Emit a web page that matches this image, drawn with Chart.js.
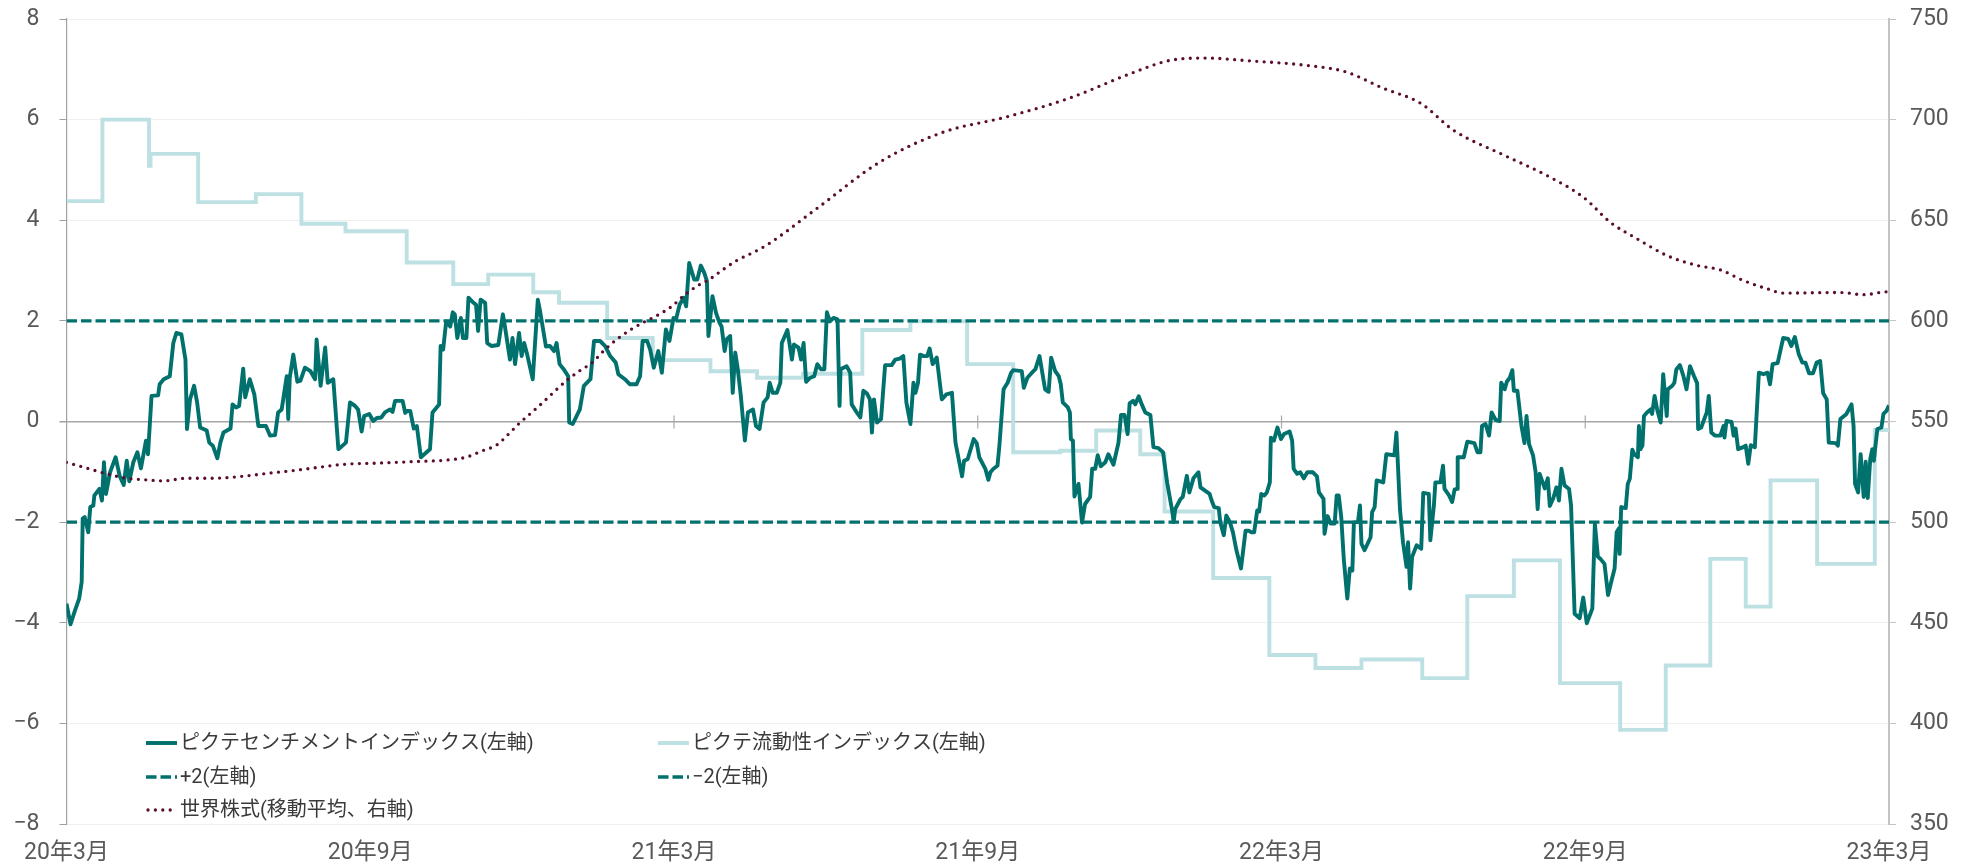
<!DOCTYPE html>
<html><head><meta charset="utf-8">
<script src="https://cdn.jsdelivr.net/npm/chart.js@4.4.1/dist/chart.umd.min.js"></script>
<style>html,body{margin:0;padding:0;background:#fff;}#wrap{width:1973px;height:868px;}</style>
</head><body><div id="wrap"><canvas id="c" width="1973" height="868"></canvas></div>
<script>
// x values: months elapsed since March 2020
const xTickLabels = ['20年3月','20年9月','21年3月','21年9月','22年3月','22年9月','23年3月'];
const leftTicks = {min: -8, max: 8, step: 2};
const rightTicks = {min: 350, max: 750, step: 50};

const seriesNames = ['ピクテセンチメントインデックス(左軸)','ピクテ流動性インデックス(左軸)','+2(左軸)','−2(左軸)','世界株式(移動平均、右軸)'];

const sentMonths = [
0,0.08,0.16,0.25,0.30,0.32,0.36,0.43,0.47,0.53,
0.55,0.65,0.70,0.74,0.78,0.86,0.97,1.05,1.13,1.19,
1.24,1.32,1.40,1.47,1.57,1.61,1.68,1.81,1.84,1.92,
2.04,2.11,2.17,2.27,2.35,2.38,2.44,2.52,2.58,2.64,
2.77,2.82,2.89,2.98,3.04,3.10,3.24,3.28,3.35,3.41,
3.49,3.53,3.62,3.71,3.79,3.94,4.02,4.12,4.18,4.25,
4.35,4.38,4.41,4.48,4.56,4.62,4.71,4.82,4.91,4.94,
5.02,5.11,5.16,5.27,5.37,5.52,5.60,5.70,5.76,5.83,
5.88,5.98,6.06,
6.13,6.22,6.29,6.39,6.44,6.49,6.64,6.69,6.73,6.79,
6.86,6.92,7.00,7.18,7.23,7.36,7.39,7.44,7.50,7.58,
7.63,7.67,7.72,7.79,7.83,7.90,7.94,8.04,8.09,8.13,
8.18,8.27,8.31,8.40,8.53,8.62,8.66,8.76,8.81,8.86,
8.94,8.99,9.04,9.10,9.21,9.31,9.35,9.47,9.55,9.63,
9.68,9.74,9.82,9.91,9.93,10.00,10.14,10.22,10.35,10.42,
10.54,10.64,10.74,10.85,10.90,11.03,11.13,11.26,11.33,11.38,
11.47,11.53,11.60,11.69,11.76,11.84,11.91,11.99,12.04,12.11,
12.19,12.24,12.30,12.40,12.46,12.53,12.60,12.65,12.68,12.76,
12.83,12.90,12.94,13.00,13.04,13.11,13.16,13.21,13.26,13.32,
13.40,13.46,13.56,13.62,13.69,13.77,13.85,13.89,13.95,14.03,
14.10,14.13,14.24,14.33,14.37,14.46,14.51,14.56,14.61,14.69,
14.77,14.83,14.90,14.97,15.02,15.08,15.15,15.23,15.27,15.29,
15.41,15.48,15.51,15.61,15.68,15.74,15.81,15.87,15.91,15.95,
16.01,16.09,16.17,16.30,16.37,16.46,16.53,16.59,16.67,16.73,
16.77,16.82,16.86,16.93,17.00,17.05,17.11,17.19,17.29,17.38,
17.49,17.56,17.69,17.73,17.80,17.92,17.98,18.03,18.15,18.21,
18.25,18.31,18.39,18.43,18.51,18.59,18.66,18.70,18.87,18.91,
18.98,19.07,19.14,19.22,19.33,19.40,19.45,19.53,19.60,19.64,
19.68,19.78,19.82,19.84,19.88,19.91,19.99,20.06,20.12,20.22,
20.26,20.32,20.37,20.43,20.52,20.58,20.68,20.78,20.83,20.90,
20.96,21.00,21.07,21.11,21.18,21.24,21.31,21.41,21.47,21.57,
21.66,21.74,21.84,21.87,21.90,22.00,22.05,22.13,22.18,22.26,
22.36,22.40,22.51,22.58,22.62,22.67,22.76,22.79,22.86,22.91,
22.98,23.04,23.11,23.20,23.29,23.35,23.40,23.46,23.52,23.56,
23.60,23.66,23.71,23.77,23.79,23.85,23.92,23.99,24.05,24.16,
24.21,24.24,24.31,
24.37,24.44,24.51,24.62,24.70,24.74,24.83,24.85,24.91,24.97,
25.05,25.09,25.13,25.18,25.23,25.30,25.35,25.40,25.43,25.51,
25.55,25.58,25.64,25.76,25.79,25.84,25.88,26.01,26.07,26.23,
26.27,26.34,26.40,26.47,26.50,26.54,26.58,26.67,26.76,26.80,
26.91,26.94,27.01,27.04,27.14,27.19,27.22,27.31,27.37,27.42,
27.47,27.48,27.60,27.67,27.81,27.87,27.93,27.96,28.03,28.10,
28.15,28.23,28.31,28.34,28.41,28.45,28.51,28.56,28.59,28.66,
28.74,28.80,28.84,28.89,28.97,29.02,29.06,29.10,29.20,29.26,
29.30,29.37,29.43,29.48,29.53,29.59,29.68,29.72,29.79,29.89,
29.96,30.03,30.14,30.19,30.25,
30.30,30.38,30.45,30.53,30.58,30.62,30.66,30.68,30.71,30.80,
30.84,30.88,30.93,30.97,31.04,31.06,31.09,31.13,31.16,31.22,
31.29,31.32,31.37,31.42,31.49,31.54,31.61,31.63,31.72,31.76,
31.80,31.87,31.94,32.00,32.07,32.15,32.21,32.23,32.29,32.40,
32.44,32.49,32.56,32.67,32.73,32.75,32.79,32.89,32.93,32.97,
33.02,33.12,33.17,33.22,33.27,33.35,33.43,33.52,33.60,33.65,
33.70,33.80,33.91,34.01,34.07,34.14,34.22,34.29,34.35,34.42,
34.50,34.57,34.64,34.70,34.77,34.81,34.95,34.99,35.04,35.16,
35.26,35.30,35.33,35.39,35.44,35.50,35.54,35.58,35.63,35.67,
35.70,35.77,35.85,35.89,35.95,36.00
];
const sentValues = [
-3.62,-4.03,-3.78,-3.52,-3.19,-1.93,-1.90,-2.20,-1.70,-1.67,
-1.47,-1.34,-1.57,-0.81,-1.44,-1.01,-0.71,-1.08,-1.26,-0.78,
-1.19,-0.81,-0.61,-0.93,-0.38,-0.65,0.51,0.52,0.74,0.84,
0.90,1.56,1.76,1.73,1.23,-0.15,0.44,0.71,0.38,-0.12,
-0.18,-0.42,-0.48,-0.73,-0.42,-0.22,-0.14,0.34,0.28,0.31,
1.05,0.48,0.84,0.54,-0.09,-0.09,-0.28,-0.27,0.18,0.24,
0.90,0.05,0.87,1.33,0.79,0.81,1.07,1.00,0.84,1.63,
0.71,1.47,0.77,0.84,-0.55,-0.42,0.38,0.31,0.24,-0.20,
0.11,0.15,0.01,
0.07,0.08,0.18,0.24,0.19,0.41,0.41,0.17,0.21,0.21,
-0.14,-0.09,-0.71,-0.55,0.18,0.34,1.50,1.43,1.99,1.89,
2.17,2.13,1.66,2.06,1.66,1.66,2.46,2.36,2.32,1.80,
2.42,2.36,1.56,1.50,1.52,2.13,1.89,1.23,1.66,1.14,
1.76,1.30,1.56,1.33,0.84,2.42,2.22,1.49,1.50,1.40,
1.56,1.14,1.04,0.90,-0.02,-0.05,0.24,0.71,0.84,1.60,
1.60,1.50,1.30,1.17,0.94,0.84,0.74,0.74,0.90,1.60,
1.60,1.43,1.07,1.40,0.97,1.83,1.60,2.06,2.03,2.32,
2.46,2.29,3.15,2.82,2.82,3.10,2.95,2.79,1.70,2.49,
2.16,1.96,1.89,1.40,1.63,1.70,0.57,1.37,1.04,0.51,
-0.38,0.18,0.24,-0.09,-0.15,0.38,0.48,0.77,0.57,0.57,
0.77,1.56,1.82,1.23,1.53,1.47,1.23,1.56,0.79,0.87,
0.90,1.14,1.04,1.04,2.17,1.99,2.06,2.03,0.31,1.04,
1.10,0.97,0.34,0.18,0.08,0.61,0.56,0.44,-0.22,0.44,
-0.02,0.05,1.12,1.12,1.23,1.25,1.30,0.38,-0.05,0.77,
0.57,0.77,1.33,1.30,1.30,1.45,1.14,1.27,0.44,0.54,
0.57,-0.42,-1.09,-0.78,-0.75,-0.35,-0.43,-0.71,-0.94,-1.16,
-1.01,-0.94,-0.88,-0.45,0.64,0.77,0.97,1.02,1.00,0.67,
0.87,0.97,1.04,1.30,0.64,0.59,1.27,1.00,0.90,0.74,
0.38,0.28,0.18,-0.35,-0.38,-1.49,-1.24,-2.01,-1.64,-1.50,
-0.94,-0.94,-0.67,-0.89,-0.81,-0.65,-0.86,-0.42,0.13,0.13,
-0.25,0.36,0.41,0.34,0.50,0.34,0.18,0.13,-0.51,-0.53,
-0.61,-1.21,-1.77,-2.00,-1.74,-1.55,-1.50,-1.08,-1.41,-1.13,
-1.01,-1.31,-1.39,-1.44,-1.57,-1.70,-1.72,-2.00,-2.26,-1.87,
-2.00,-2.20,-2.56,-2.92,-2.17,-2.17,-2.20,-2.20,-1.77,-1.79,
-1.44,-1.47,-1.41,-1.21,-0.32,-0.38,-0.12,-0.35,-0.25,-0.20,
-0.38,-0.94,-1.04,
-1.01,-1.13,-1.01,-1.01,-1.09,-1.41,-1.54,-2.23,-1.88,-2.03,
-2.03,-1.47,-1.47,-1.90,-2.73,-3.52,-2.92,-2.96,-2.00,-2.00,
-1.67,-2.43,-2.56,-2.30,-1.80,-1.70,-1.17,-1.21,-0.65,-0.67,
-0.22,-1.74,-2.40,-2.89,-2.40,-3.32,-2.69,-2.46,-2.53,-1.42,
-1.44,-2.36,-1.67,-1.21,-1.21,-0.88,-1.34,-1.47,-1.60,-1.35,
-1.34,-0.71,-0.71,-0.40,-0.43,-0.61,-0.61,-0.09,-0.05,-0.28,
0.18,0.03,0.01,0.77,0.64,0.79,0.87,1.02,0.61,0.61,
-0.09,-0.43,0.11,-0.45,-0.68,-1.01,-1.74,-1.04,-1.33,-1.13,
-1.68,-1.52,-1.31,-1.57,-0.94,-1.27,-1.34,-1.67,-3.82,-3.91,
-3.50,-4.01,-3.72,-2.03,-2.69,
-2.73,-2.83,-3.45,-3.12,-2.92,-2.20,-2.13,-2.63,-1.70,-1.72,
-1.24,-1.14,-0.56,-0.65,-0.71,-0.09,-0.55,-0.48,0.11,0.18,
0.24,0.15,0.51,0.24,-0.02,0.94,0.11,0.64,0.71,0.77,
1.04,1.12,0.90,0.64,1.10,0.90,0.76,-0.15,-0.12,0.18,
0.51,-0.22,-0.28,-0.28,-0.09,-0.32,0.01,-0.01,-0.28,-0.14,
-0.55,-0.51,-0.48,-0.84,-0.47,-0.51,0.97,0.94,0.97,0.74,
1.14,1.16,1.66,1.64,1.50,1.68,1.33,1.17,1.17,0.96,
0.96,1.17,1.20,0.56,0.44,-0.42,-0.43,-0.48,0.05,0.15,
0.34,-0.09,-1.24,-1.41,-0.65,-1.50,-0.80,-1.52,-0.75,-0.55,
-0.78,-0.15,-0.12,0.15,0.21,0.32
];

// liquidity index: value holds from each month mark until the next one
const liqMonths = [0,0.71,1.63,1.66,2.6,3.74,4.64,5.51,6.72,7.64,8.33,9.22,9.73,10.68,11.58,12.72,13.64,14.55,15.72,16.67,17.79,18.70,19.63,20.34,21.21,21.69,22.65,23.76,24.67,25.58,26.78,27.67,28.59,29.5,30.69,31.59,32.47,33.17,33.66,34.58,35.72,36];
const liqValues = [4.38,6.0,5.08,5.32,4.36,4.52,3.93,3.78,3.16,2.73,2.92,2.57,2.36,1.66,1.22,1.0,0.87,0.95,1.82,1.99,1.14,-0.61,-0.58,-0.18,-0.65,-1.79,-3.11,-4.64,-4.9,-4.73,-5.1,-3.47,-2.76,-5.2,-6.13,-4.85,-2.73,-3.68,-1.17,-2.83,-0.17,-0.17];

const bandMonths = [0, 36];
const upperBand = [2, 2];
const lowerBand = [-2, -2];

const maMonths = [0,0.46,0.79,1.19,1.58,1.91,2.37,2.9,3.56,4.02,4.48,4.97,5.47,6.13,6.79,7.58,7.9,8.2,8.5,8.73,8.96,9.19,9.42,9.65,9.91,10.15,10.38,10.64,10.87,11.13,11.4,11.66,11.96,12.19,12.45,12.71,12.98,13.24,13.54,13.84,14.83,16.07,17.32,18.56,19.8,21.04,21.79,22.53,23.27,24.51,25.26,26.01,26.75,27.4,28.39,29.26,29.97,30.5,31.03,31.62,32.22,32.67,33.13,33.6,33.92,34.59,35.04,35.5,35.88,36];
const maValues = [529.7,526.4,524,521.8,521,520.5,521.8,521.8,523,524.4,525.6,527.2,528.7,529.3,530,531,532.3,535.3,538.4,543.7,549.5,554.5,559.7,565.2,571,575.4,579.2,585.8,590.8,595.4,599.3,602.6,607.3,612.5,617.2,620.8,625.7,630,633.7,637.8,656,679,693.8,701.3,710.6,723.1,729.4,730.6,729.4,726.9,723.8,715.6,708.1,694.7,682.4,672,661.3,648.9,640.7,632.4,627.5,625.3,620,615.9,613.8,614,614.1,613,614.3,614.5];

const TEAL = '#00716D', LIGHT = '#BDE0E3', MAROON = '#5B0D30';
const FONT = "Roboto, 'Noto Sans CJK JP', sans-serif";
const pts = (xs, ys) => xs.map((x, i) => ({x, y: ys[i]}));
const fmtNum = v => v < 0 ? '−' + Math.abs(v) : String(v);

const zeroTickPlugin = {
  id: 'zeroTicks',
  beforeDatasetsDraw(chart) {
    const {ctx, scales: {x, y}} = chart;
    const py = y.getPixelForValue(0);
    ctx.save();
    ctx.strokeStyle = '#a8a8a8'; ctx.lineWidth = 1.2;
    for (let m = 6; m < 36; m += 6) {
      const px = x.getPixelForValue(m);
      ctx.beginPath(); ctx.moveTo(px, py - 6); ctx.lineTo(px, py + 7); ctx.stroke();
    }
    ctx.restore();
  }
};

const legendPlugin = {
  id: 'customLegend',
  afterDraw(chart) {
    const ctx = chart.ctx;
    const items = [
      {ds: 0, col: 0, row: 0}, {ds: 1, col: 1, row: 0},
      {ds: 2, col: 0, row: 1}, {ds: 3, col: 1, row: 1},
      {ds: 4, col: 0, row: 2}
    ];
    const colX = [146, 658], rowY = [743, 777, 810], symLen = 31;
    ctx.save();
    ctx.font = '20px ' + FONT;
    ctx.textBaseline = 'middle';
    ctx.fillStyle = '#3a3a3a';
    items.forEach(it => {
      const d = chart.data.datasets[it.ds];
      const x0 = colX[it.col], y0 = rowY[it.row];
      ctx.save();
      ctx.strokeStyle = d.borderColor;
      ctx.lineWidth = d.borderWidth;
      ctx.lineCap = d.borderCapStyle || 'butt';
      ctx.setLineDash(d.borderDash || []);
      ctx.beginPath(); ctx.moveTo(x0 + (d.borderCapStyle === 'round' ? 2 : 0), y0); ctx.lineTo(x0 + symLen, y0); ctx.stroke();
      ctx.restore();
      ctx.fillText(seriesNames[it.ds], x0 + symLen + 3, y0 + 1);
    });
    ctx.restore();
  }
};

new Chart(document.getElementById('c'), {
  type: 'line',
  data: {
    datasets: [
      {label: seriesNames[0], data: pts(sentMonths, sentValues), yAxisID: 'y', borderColor: TEAL, borderWidth: 3.9, pointRadius: 0, tension: 0, order: 2, borderJoinStyle: 'round'},
      {label: seriesNames[1], data: pts(liqMonths, liqValues), yAxisID: 'y', borderColor: LIGHT, borderWidth: 3.9, pointRadius: 0, stepped: 'before', order: 5},
      {label: seriesNames[2], data: pts(bandMonths, upperBand), yAxisID: 'y', borderColor: TEAL, borderWidth: 3.3, borderDash: [10.5, 4], pointRadius: 0, order: 3},
      {label: seriesNames[3], data: pts(bandMonths, lowerBand), yAxisID: 'y', borderColor: TEAL, borderWidth: 3.3, borderDash: [10.5, 4], pointRadius: 0, order: 4},
      {label: seriesNames[4], data: pts(maMonths, maValues), yAxisID: 'y1', borderColor: MAROON, borderWidth: 3.3, borderDash: [0, 7.4], borderCapStyle: 'round', pointRadius: 0, cubicInterpolationMode: 'monotone', order: 1}
    ]
  },
  options: {
    responsive: false, devicePixelRatio: 1, animation: false,
    layout: {padding: {top: 19, left: 0, right: 0, bottom: 0}},
    plugins: {legend: {display: false}, tooltip: {enabled: false}},
    scales: {
      x: {
        type: 'linear', position: 'bottom', min: 0, max: 36,
        afterBuildTicks: s => { s.ticks = xTickLabels.map((_, i) => ({value: i * 6})); },
        ticks: {autoSkip: false, maxRotation: 0, padding: 15, color: '#595959', font: {size: 23, family: FONT},
          callback: v => xTickLabels[Math.round(v / 6)]},
        grid: {display: false, drawTicks: false},
        border: {display: false},
        afterFit: s => { s.height = 44; s.paddingLeft = 0; s.paddingRight = 0; }
      },
      y: {
        position: 'left', min: leftTicks.min, max: leftTicks.max,
        ticks: {stepSize: leftTicks.step, padding: 20, color: '#595959', font: {size: 23, family: FONT}, callback: v => fmtNum(v)},
        grid: {color: c => c.tick && c.tick.value === 0 ? '#a6a6a6' : '#f0f0f0', lineWidth: c => c.tick && c.tick.value === 0 ? 1.5 : 1, tickColor: '#a0a0a0', tickLength: 7},
        border: {display: true, color: '#a0a0a0', width: 1.2},
        afterFit: s => { s.width = 66.5; s.paddingTop = 0; s.paddingBottom = 0; }
      },
      y1: {
        position: 'right', min: rightTicks.min, max: rightTicks.max,
        ticks: {stepSize: rightTicks.step, padding: 14, color: '#595959', font: {size: 23, family: FONT}},
        grid: {drawOnChartArea: false, tickColor: '#c4c4c4', tickLength: 7},
        border: {display: true, color: '#c4c4c4', width: 2},
        afterFit: s => { s.width = 84; s.paddingTop = 0; s.paddingBottom = 0; }
      }
    }
  },
  plugins: [zeroTickPlugin, legendPlugin]
});
</script></body></html>
